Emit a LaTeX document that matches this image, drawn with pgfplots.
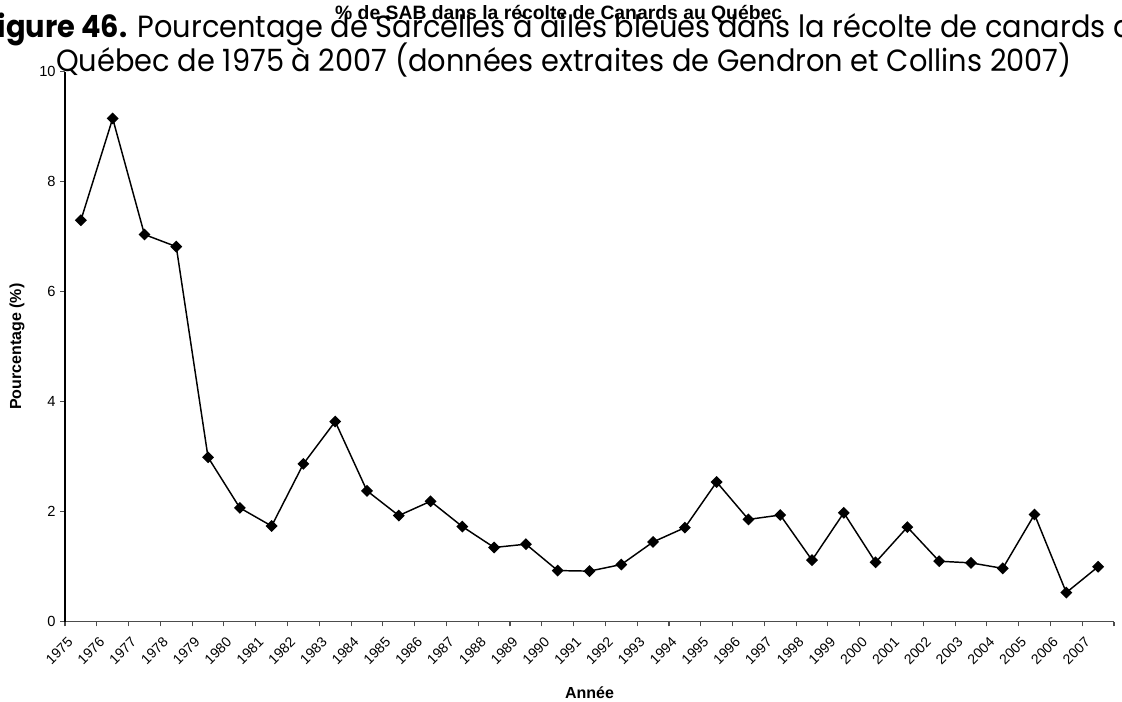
\documentclass[border=0pt]{standalone}
\usepackage{pgfplots}
\pgfplotsset{compat=1.18}
\usepackage{fontspec}
\setmainfont{Liberation Sans}
\newfontfamily\gothic[FakeStretch=0.94]{Poppins}
\begin{document}
\begin{tikzpicture}
\clip (0,0) rectangle (841.5pt,526.5pt);
\fill[white] (0,0) rectangle (841.5pt,526.5pt);
% big caption behind the chart
\node[anchor=base, inner sep=0pt] at (425pt,498pt) {\gothic\fontsize{23}{26}\selectfont \textbf{Figure 46.} Pourcentage de Sarcelles à ailes bleues dans la récolte de canards au};
\node[anchor=base, inner sep=0pt] at (423pt,472.5pt) {\gothic\fontsize{23}{26}\selectfont Québec de 1975 à 2007 (données extraites de Gendron et Collins 2007)};
% chart title
\node[anchor=base, inner sep=0pt] at (419pt,511.5pt) {\bfseries\fontsize{14.5}{16}\selectfont \% de SAB dans la récolte de Canards au Québec};
\begin{axis}[
  at={(48.75pt,60.2pt)}, anchor=origin,
  scale only axis, width=786.75pt, height=412.5pt,
  xmin=0, xmax=33, ymin=0, ymax=10,
  axis lines*=left,
  axis line style={line width=0.8pt},
  x axis line style={draw=black!70},
  y axis line style={draw=black},
  xtick={0,...,33},
  xticklabels={1975,1976,1977,1978,1979,1980,1981,1982,1983,1984,1985,1986,1987,1988,1989,1990,1991,1992,1993,1994,1995,1996,1997,1998,1999,2000,2001,2002,2003,2004,2005,2006,2007,{}},
  ytick={0,2,4,6,8,10},
  tick align=outside,
  major tick length=3.5pt,
  tick style={line width=0.8pt, black!70},
  /pgf/number format/assume math mode=true,
  x tick label style={font=\fontsize{10.5}{12}\selectfont, anchor=east, inner sep=0pt, xshift=4pt, yshift=-10pt, rotate=45},
  y tick label style={font=\fontsize{11}{12}\selectfont},
  xlabel={\textbf{Année}},
  ylabel={\textbf{Pourcentage (\%)}},
  xlabel style={font=\fontsize{12}{14}\selectfont, at={(axis description cs:0.5,0)}, anchor=center, yshift=-53.5pt},
  ylabel style={font=\fontsize{12}{14}\selectfont, at={(axis description cs:-0.0458,0.5)}, anchor=center},
  clip=false,
]
\addplot[black, line width=1.1pt, mark=square*, mark size=2.6pt, mark options={rotate=45, solid, fill=black}] table {
x y
0.5 7.30
1.5 9.15
2.5 7.04
3.5 6.82
4.5 2.99
5.5 2.07
6.5 1.74
7.5 2.87
8.5 3.64
9.5 2.38
10.5 1.93
11.5 2.19
12.5 1.73
13.5 1.35
14.5 1.41
15.5 0.93
16.5 0.92
17.5 1.04
18.5 1.45
19.5 1.71
20.5 2.54
21.5 1.86
22.5 1.94
23.5 1.12
24.5 1.98
25.5 1.08
26.5 1.72
27.5 1.10
28.5 1.07
29.5 0.97
30.5 1.95
31.5 0.53
32.5 1.00
};
\end{axis}
\end{tikzpicture}
\end{document}
